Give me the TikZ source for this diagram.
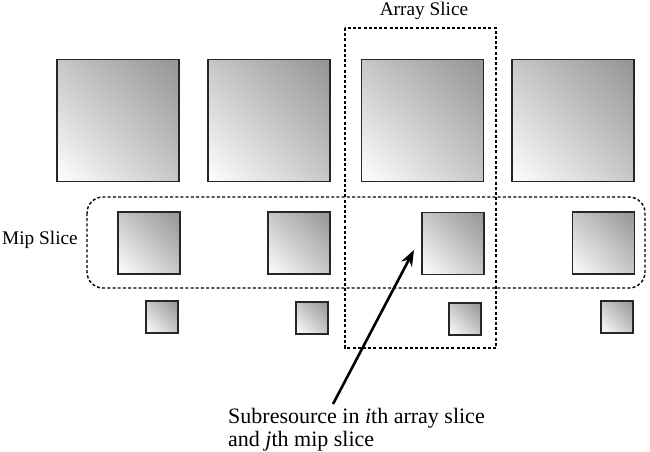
\documentclass[tikz,border=0pt]{standalone}
\usepackage{fontspec}
\setmainfont{Liberation Serif}
\usetikzlibrary{arrows.meta,shadings}
\begin{document}
\begin{tikzpicture}[x=1pt,y=-1pt,
  tex/.style={draw=black!85, line width=1.5pt, inner sep=0pt, outer sep=0pt,
    lower left=white, upper right=black!42, upper left=black!22, lower right=black!22},
  big/.style={tex, minimum size=122pt},
  mid/.style={tex, minimum size=62pt},
  small/.style={tex, minimum size=32pt},
  slice/.style={draw, line width=1.4pt, dash pattern=on 3pt off 2.2pt},
  lbl/.style={font=\fontsize{19.3}{23}\selectfont, inner sep=0pt},
  note/.style={font=\fontsize{22}{23}\selectfont, inner sep=0pt}]
\useasboundingbox (0,0) rectangle (650,451);
% big squares
\node[big] (b1) at (118,120.5) {};
\node[big] (b2) at (269,120.5) {};
\node[big] (b3) at (422.5,120.5) {};
\node[big] (b4) at (573,120.5) {};
% medium squares
\node[mid] (m1) at (149,243) {};
\node[mid] (m2) at (299,243) {};
\node[mid] (m3) at (453,243.5) {};
\node[mid] (m4) at (603.5,243) {};
% small squares
\node[small] (s1) at (162,317) {};
\node[small] (s2) at (312,318) {};
\node[small] (s3) at (465,319) {};
\node[small] (s4) at (617,317) {};
% slices
\draw[slice] (345,28) rectangle (496,348);
\draw[slice, rounded corners=16pt] (87,197) rectangle (645,288);
\node[lbl, anchor=base] (al) at (424,15) {Array Slice};
\node[lbl, anchor=base west] (ml) at (2,244) {Mip Slice};
% annotation
\node[note, align=left, anchor=base west] (sub) at (228,446) {Subresource in \textit{i}th array slice\\and \textit{j}th mip slice};
\coordinate (tip) at (414,250);
\coordinate (tail) at (333,404);
\draw[line width=2.6pt, -{Stealth[length=16pt,width=12pt]}] (tail) -- (tip);
\end{tikzpicture}
\end{document}
